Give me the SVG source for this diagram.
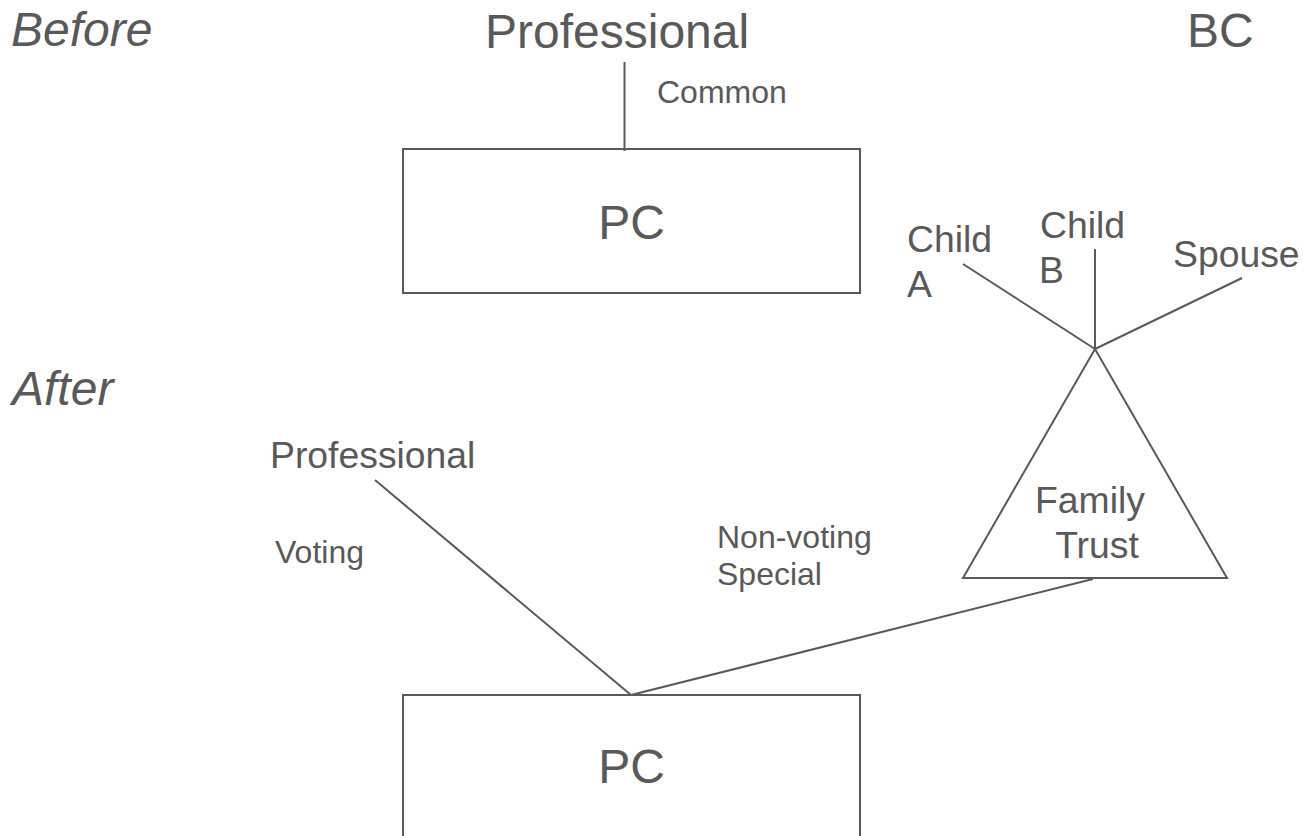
<svg xmlns="http://www.w3.org/2000/svg" width="1303" height="836" viewBox="0 0 1303 836">
<style>
text{font-family:"Liberation Sans",Arial,sans-serif;fill:#595959}
.h{font-size:48px}
.i{font-size:48px;font-style:italic}
.m{font-size:37.33px}
.s{font-size:32px}
.ln{stroke:#595959;stroke-width:2;fill:none}
</style>
<rect width="1303" height="836" fill="#fff"/>
<g id="titles">
<text class="i" x="11" y="46">Before</text>
<text class="i" x="12" y="405">After</text>
<text class="h" x="1187" y="47">BC</text>
</g>
<g id="connectors">
<line class="ln" x1="624.5" y1="62" x2="624.5" y2="151"/>
<line class="ln" x1="963" y1="264" x2="1095" y2="349"/>
<line class="ln" x1="1095" y1="249" x2="1095" y2="349"/>
<line class="ln" x1="1242" y1="278" x2="1095" y2="349"/>
<line class="ln" x1="375" y1="480" x2="631" y2="695"/>
<line class="ln" x1="1093" y1="579" x2="631" y2="695"/>
<text class="s" x="657" y="103">Common</text>
<text class="s" x="275" y="563">Voting</text>
<text class="s" x="717" y="548">Non-voting</text>
<text class="s" x="717" y="585">Special</text>
</g>
<g id="professional-before">
<text class="h" x="485" y="48">Professional</text>
</g>
<g id="pc-before">
<rect class="ln" x="403" y="149" width="457" height="144"/>
<text class="h" x="631.5" y="239" text-anchor="middle">PC</text>
</g>
<g id="child-a">
<text class="m" x="907" y="252">Child</text>
<text class="m" x="907" y="297">A</text>
</g>
<g id="child-b">
<text class="m" x="1040" y="238">Child</text>
<text class="m" x="1039" y="283">B</text>
</g>
<g id="spouse">
<text class="m" x="1173" y="267">Spouse</text>
</g>
<g id="family-trust">
<polygon class="ln" points="1095,349 963,578 1227,578"/>
<text class="m" x="1090" y="513" text-anchor="middle">Family</text>
<text class="m" x="1097" y="558" text-anchor="middle">Trust</text>
</g>
<g id="professional-after">
<text class="m" x="270" y="468">Professional</text>
</g>
<g id="pc-after">
<rect class="ln" x="403" y="695" width="457" height="160"/>
<text class="h" x="631.5" y="783" text-anchor="middle">PC</text>
</g>
</svg>
